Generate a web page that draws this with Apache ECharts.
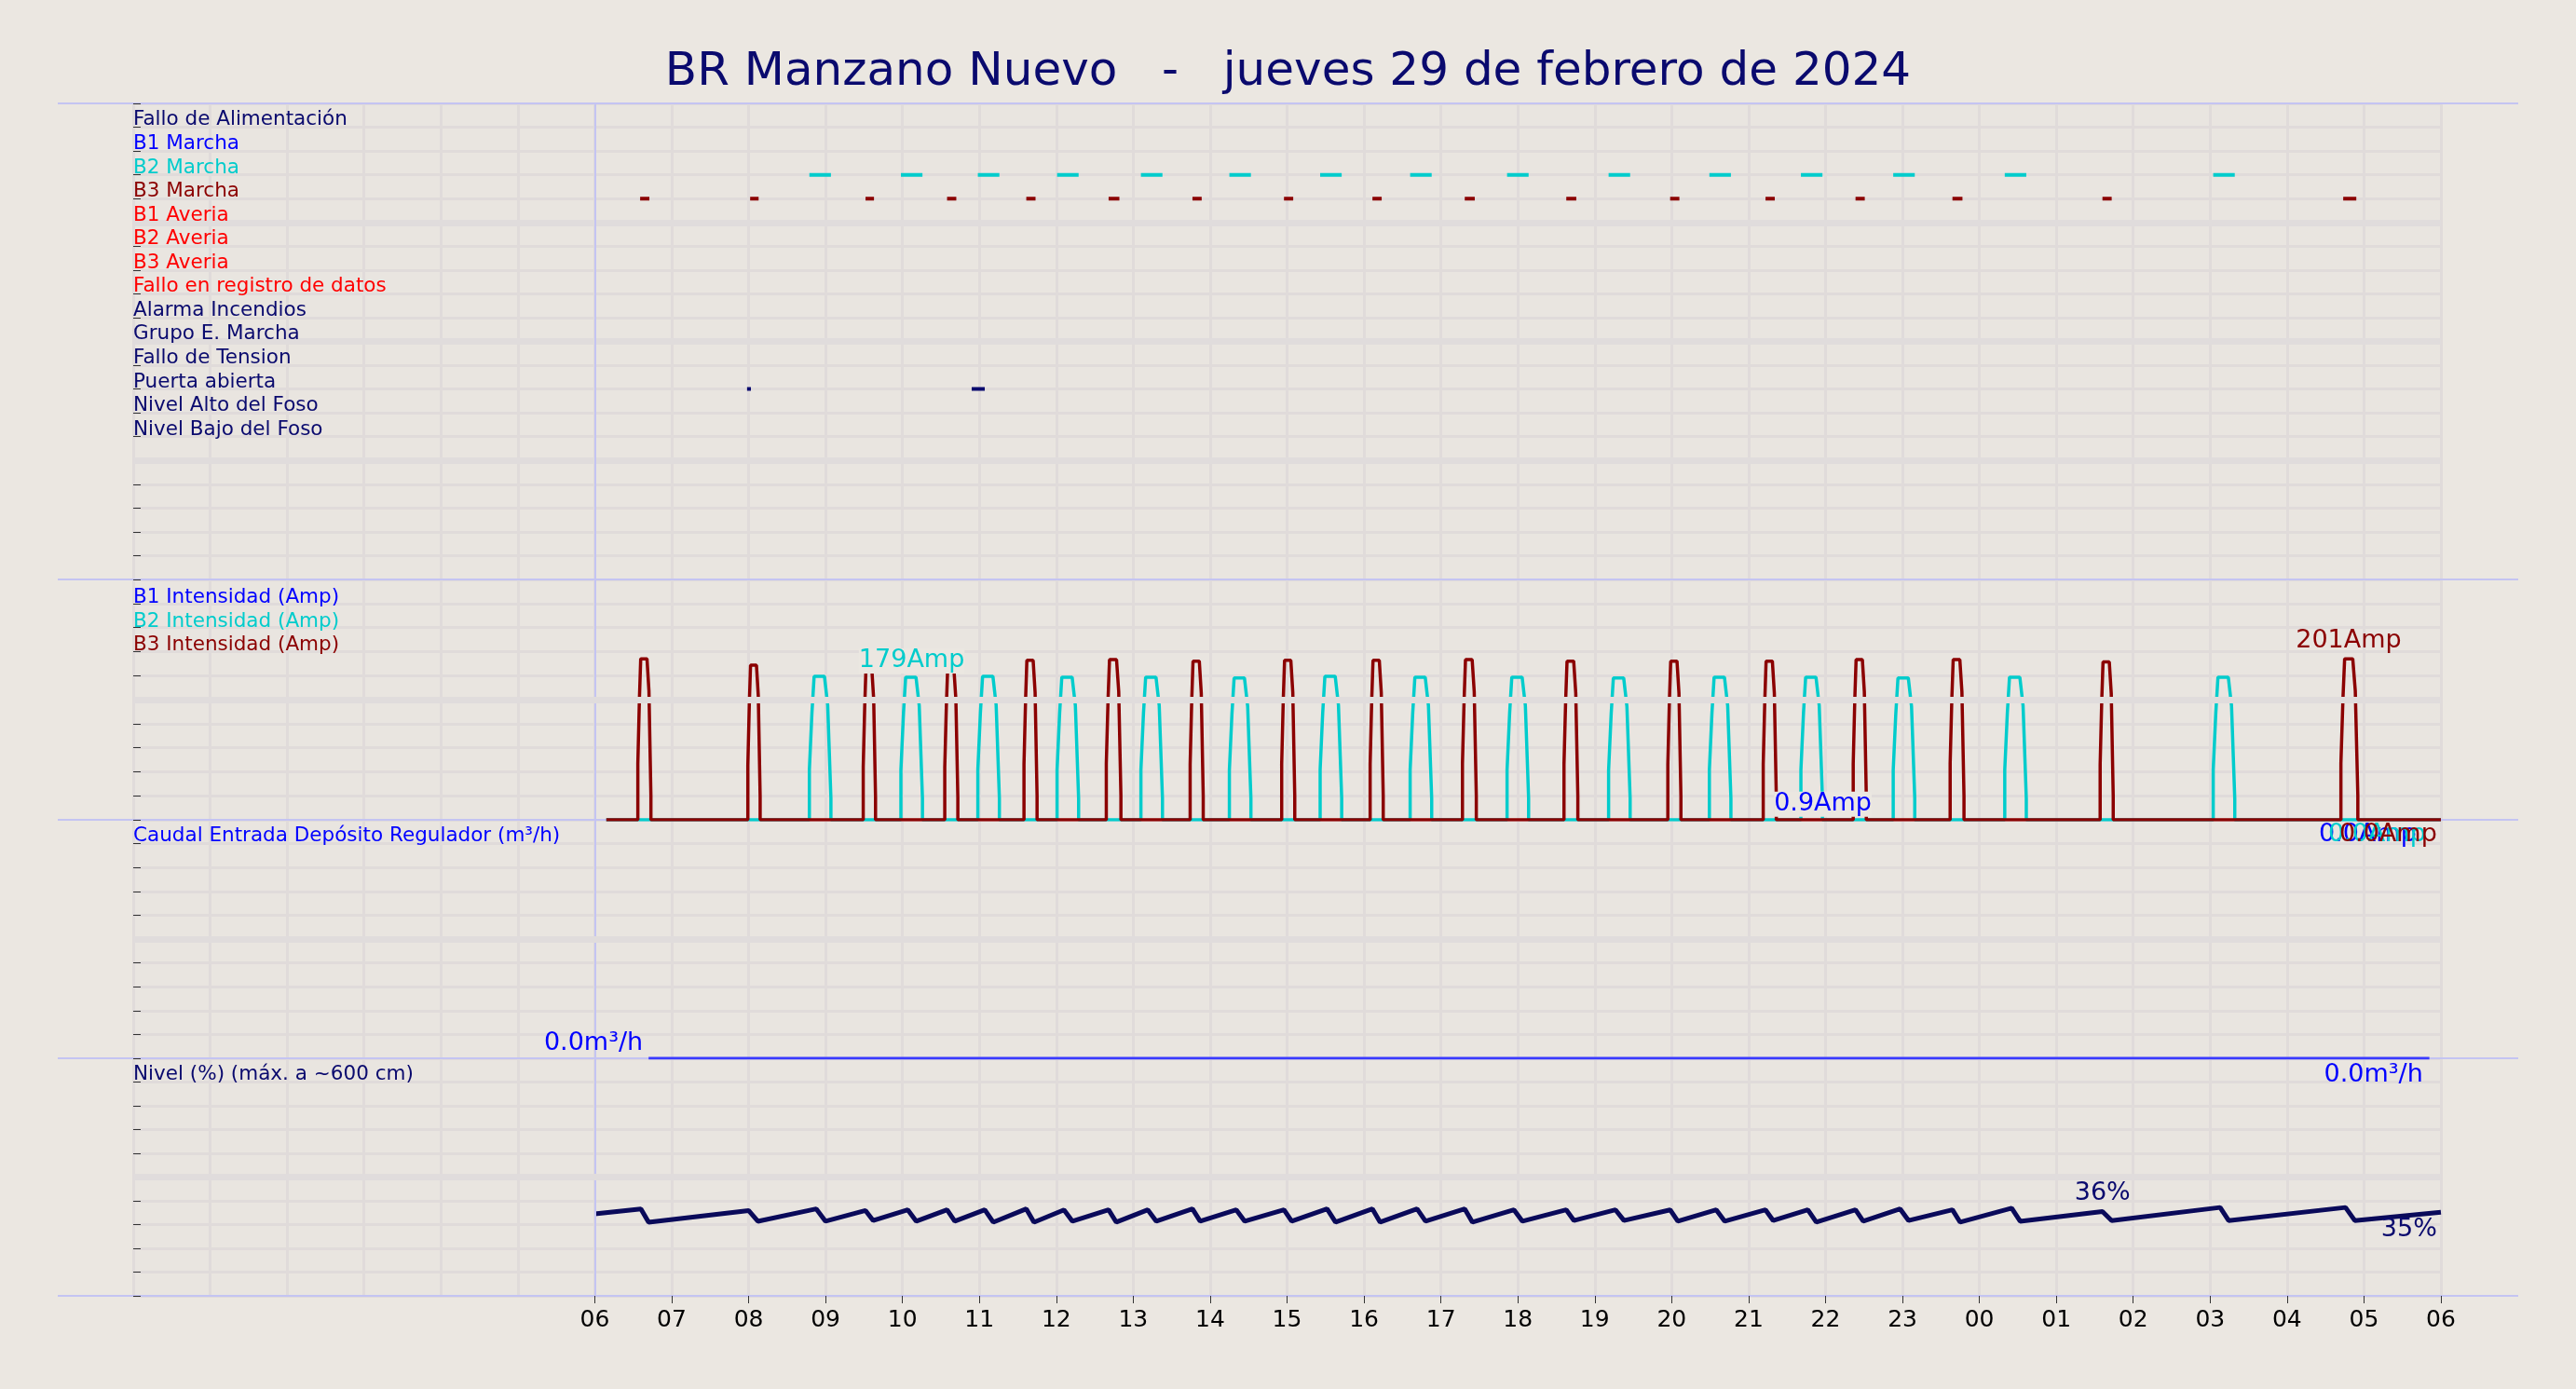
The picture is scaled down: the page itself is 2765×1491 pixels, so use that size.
<!DOCTYPE html>
<html><head><meta charset="utf-8">
<script src="https://cdn.jsdelivr.net/npm/echarts@6/dist/echarts.min.js"></script>
<style>html,body{margin:0;padding:0;background:#ebe7e1}#c{width:2765px;height:1491px}</style>
</head><body><div id="c"></div>
<script>
// ---- data ----
const rowLabels = ['Fallo de Alimentación','B1 Marcha','B2 Marcha','B3 Marcha','B1 Averia','B2 Averia','B3 Averia','Fallo en registro de datos','Alarma Incendios','Grupo E. Marcha','Fallo de Tension','Puerta abierta','Nivel Alto del Foso','Nivel Bajo del Foso'];
const rowColors = ['#0a0a6e','#0000ff','#00cccc','#8b0000','#ff0000','#ff0000','#ff0000','#ff0000','#0a0a6e','#0a0a6e','#0a0a6e','#0a0a6e','#0a0a6e','#0a0a6e'];
// pump runs (hours from 00:00 of 29 Feb)
const b3Start = [6.56,7.99,9.49,10.55,11.58,12.65,13.74,14.93,16.08,17.28,18.6,19.95,21.19,22.36,23.62,25.57,28.70];
const b3End   = [6.73,8.15,9.65,10.72,11.75,12.84,13.91,15.10,16.25,17.46,18.78,20.12,21.36,22.53,23.80,25.74,28.92];
const b3Peak  = [201,193,188,188,199,200,198,199,199,200,198,198,198,200,200,197,201];
const b2Start = [8.79,9.98,10.98,12.01,13.10,14.25,15.43,16.60,17.86,19.18,20.49,21.68,22.88,24.33,27.04];
const b2End   = [9.07,10.26,11.26,12.29,13.38,14.53,15.71,16.88,18.14,19.46,20.77,21.96,23.16,24.61,27.32];
const b2Peak  = [179,178,179,178,178,177,179,178,178,177,178,178,177,178,178];
const pulseShape = [0.35,0.75,1,1,0.8,0.15]; // fractions of peak read from the step profile
const puertaRuns = [[7.98,8.03],[10.9,11.07]];
const caudalX = [6.7, 29.85];
const caudalY = [0, 0];
const levelX = [6.0,6.6,6.7,8.0,8.12,8.88,9.0,9.52,9.62,10.07,10.18,10.58,10.68,11.07,11.18,11.61,11.71,12.1,12.21,12.68,12.78,13.19,13.3,13.77,13.87,14.34,14.45,14.96,15.06,15.52,15.63,16.11,16.21,16.69,16.8,17.31,17.41,17.95,18.06,18.63,18.73,19.27,19.38,19.98,20.08,20.58,20.69,21.22,21.32,21.77,21.88,22.39,22.49,22.97,23.08,23.65,23.75,24.42,24.53,25.6,25.72,27.13,27.24,28.76,28.88,30.0];
const levelY = [34.5,36.6,31.0,35.9,31.4,36.6,31.4,35.9,31.7,36.2,31.4,36.2,31.4,36.2,31.0,36.6,31.0,36.2,31.4,36.2,31.0,36.2,31.4,36.6,31.4,36.2,31.4,36.2,31.4,36.6,31.0,36.6,31.0,36.6,31.4,36.6,31.0,36.2,31.4,36.2,31.7,36.2,31.7,36.2,31.4,36.2,31.4,36.2,31.7,36.2,31.0,36.2,31.4,36.6,31.7,36.2,31.0,36.9,31.4,35.5,31.7,37.2,31.7,37.2,31.7,35.2];
const hourTicks = ['06','07','08','09','10','11','12','13','14','15','16','17','18','19','20','21','22','23','00','01','02','03','04','05','06'];

// ---- build ----
function pulses(st, en, pk, x0, x1){
  const d=[[x0,0]];
  for(let i=0;i<st.length;i++){
    const s=st[i], e=en[i], w=e-s, p=pk[i];
    d.push([s,0],[s,p*pulseShape[0]],[s+w*0.12,p*pulseShape[1]],[s+w*0.22,p*pulseShape[2]],
           [e-w*0.3,p*pulseShape[3]],[e-w*0.15,p*pulseShape[4]],[e,p*pulseShape[5]],[e,0]);
  }
  d.push([x1,0]); return d;
}
function dashes(st,en,row){const d=[];for(let i=0;i<st.length;i++){d.push([st[i],row],[en[i],row],[null,null]);}return d;}

const grids=[{top:111,h:511},{top:622,h:258},{top:880,h:256},{top:1136,h:255}];
const yMax=[20,300,10,100];
const F='DejaVu Sans';
const L=143, R=145, W=2765-L-R;
const option={
  backgroundColor:'#ebe7e1',
  animation:false,
  title:{text:'BR Manzano Nuevo   -   jueves 29 de febrero de 2024',left:'center',top:48,textStyle:{fontFamily:F,fontSize:50,fontWeight:'normal',color:'#0a0a6e'}},
  grid:grids.map(g=>({left:L,right:R,top:g.top,height:g.h,backgroundColor:'#e9e5e0',show:true,borderWidth:0}))
     .concat([{left:L+W*6/30,right:R,top:grids[3].top,height:grids[3].h,show:false}]),
  xAxis:grids.map((g,i)=>({gridIndex:i,type:'value',min:0,max:30,interval:1,
     axisLine:{show:false},axisTick:{show:false},axisLabel:{show:false},
     splitLine:{show:true,lineStyle:{color:'#e0dbda',width:3}}}))
     .concat([{gridIndex:4,type:'value',min:6,max:30,interval:1,axisLine:{show:false},
       axisTick:{show:true,length:8,lineStyle:{color:'#333'}},splitLine:{show:false},
       axisLabel:{show:true,fontFamily:F,fontSize:25,color:'#000',margin:14,formatter:v=>hourTicks[v-6]}}]),
  yAxis:grids.map((g,i)=>({gridIndex:i,type:'value',min:0,max:yMax[i],interval:yMax[i]/(i===0?20:10),inverse:i===0,position:'right',
     axisLine:{show:false},axisLabel:{show:false},
     axisTick:{show:true,length:8,lineStyle:{color:'#333'}},
     splitLine:{show:true,lineStyle:{color:'#e0dbda',width:3}}}))
     .concat([{gridIndex:4,type:'value',min:0,max:1,show:false}]),
  series:[]
};
const S=option.series;
const thick={silent:true,symbol:'none',label:{show:false},lineStyle:{color:'#e0dcdc',width:7,type:'solid'}};
const lab={type:'scatter',symbolSize:0,silent:true,z:10,itemStyle:{opacity:1}};
// panel 1
S.push(Object.assign({},lab,{xAxisIndex:0,yAxisIndex:0,
  data:rowLabels.map((t,k)=>({value:[0,k+0.7],label:{show:true,position:'right',distance:0,formatter:t,color:rowColors[k],fontFamily:F,fontSize:21.5}}))}));
S.push({type:'line',xAxisIndex:0,yAxisIndex:0,data:[],z:1,markLine:Object.assign({data:[{yAxis:5},{yAxis:10},{yAxis:15}]},thick)});
S.push({type:'line',xAxisIndex:0,yAxisIndex:0,symbol:'none',connectNulls:false,data:dashes(b2Start,b2End,3),lineStyle:{color:'#00cccc',width:4}});
S.push({type:'line',xAxisIndex:0,yAxisIndex:0,symbol:'none',connectNulls:false,data:dashes(b3Start.map((s,i)=>s+0.03),b3End.map(e=>e-0.02),4),lineStyle:{color:'#8b0000',width:4}});
S.push({type:'line',xAxisIndex:0,yAxisIndex:0,symbol:'none',connectNulls:false,data:dashes(puertaRuns.map(r=>r[0]),puertaRuns.map(r=>r[1]),12),lineStyle:{color:'#0a0a6e',width:4}});
[0,1,2,3].forEach(i=>S.push({type:'line',xAxisIndex:i,yAxisIndex:i,data:[],markLine:{silent:true,symbol:'none',label:{show:false},lineStyle:{color:'#c4c4f2',width:2,type:'solid'},data:[{xAxis:6}]}}));
// panel 2
const intLabels=[['B1 Intensidad (Amp)','#0000ff',277],['B2 Intensidad (Amp)','#00cccc',247],['B3 Intensidad (Amp)','#8b0000',218]];
S.push(Object.assign({},lab,{xAxisIndex:1,yAxisIndex:1,
  data:intLabels.map(r=>({value:[0,r[2]],label:{show:true,position:'right',distance:0,formatter:r[0],color:r[1],fontFamily:F,fontSize:21.5}}))}));
S.push({type:'line',xAxisIndex:1,yAxisIndex:1,data:[],z:1,markLine:Object.assign({data:[{yAxis:150}]},thick)});
S.push({type:'line',xAxisIndex:1,yAxisIndex:1,symbol:'none',data:pulses(b2Start,b2End,b2Peak,6.15,30),lineStyle:{color:'#00cccc',width:3.5}});
S.push({type:'line',xAxisIndex:1,yAxisIndex:1,symbol:'none',data:pulses(b3Start,b3End,b3Peak,6.15,30),lineStyle:{color:'#8b0000',width:3.5}});
S.push(Object.assign({},lab,{xAxisIndex:1,yAxisIndex:1,data:[
  {value:[b2Start[1]+0.14,b2Peak[1]],label:{show:true,position:'top',distance:4,formatter:'179Amp',color:'#00cccc',fontFamily:F,fontSize:27,backgroundColor:'#ebe7e1'}},
  {value:[b3Start[16]+0.1,b3Peak[16]],label:{show:true,position:'top',distance:6,formatter:'201Amp',color:'#8b0000',fontFamily:F,fontSize:27}},
  {value:[22.6,0.9],label:{show:true,position:'left',distance:0,offset:[0,-16],formatter:'0.9Amp',color:'#0000ff',fontFamily:F,fontSize:27,backgroundColor:'#ebe7e1'}},
  {value:[29.75,0],label:{show:true,position:'bottom',distance:2,offset:[-58,0],formatter:'0.0Amp',color:'#0000ff',fontFamily:F,fontSize:27}},
  {value:[29.75,0],label:{show:true,position:'bottom',distance:2,offset:[-48,0],formatter:'0.0Amp',color:'#00cccc',fontFamily:F,fontSize:27}},
  {value:[29.75,0],label:{show:true,position:'bottom',distance:2,offset:[-36,0],formatter:'0.0Amp',color:'#8b0000',fontFamily:F,fontSize:27}}]}));
// panel 3
S.push(Object.assign({},lab,{xAxisIndex:2,yAxisIndex:2,
  data:[{value:[0,9.3],label:{show:true,position:'right',distance:0,formatter:'Caudal Entrada Depósito Regulador (m³/h)',color:'#0000ff',fontFamily:F,fontSize:21.5}},
        {value:[caudalX[0],0],label:{show:true,position:'left',distance:6,offset:[0,-16],formatter:'0.0m³/h',color:'#0000ff',fontFamily:F,fontSize:27}}]}));
S.push({type:'line',xAxisIndex:2,yAxisIndex:2,data:[],z:1,markLine:Object.assign({data:[{yAxis:5}]},thick)});
S.push({type:'line',xAxisIndex:2,yAxisIndex:2,symbol:'none',data:caudalX.map((x,i)=>[x,caudalY[i]]),lineStyle:{color:'#3a3aff',width:3}});
// panel 4
S.push(Object.assign({},lab,{xAxisIndex:3,yAxisIndex:3,
  data:[{value:[0,93],label:{show:true,position:'right',distance:0,formatter:'Nivel (%) (máx. a ~600 cm)',color:'#0a0a6e',fontFamily:F,fontSize:21.5}},
        {value:[caudalX[1],100],label:{show:true,position:'bottom',distance:4,offset:[-60,0],formatter:'0.0m³/h',color:'#0000ff',fontFamily:F,fontSize:27}},
        {value:[25.6,37],label:{show:true,position:'top',distance:2,formatter:'36%',color:'#0a0a6e',fontFamily:F,fontSize:27}},
        {value:[29.95,33],label:{show:true,position:'bottom',distance:0,offset:[-30,0],formatter:'35%',color:'#0a0a6e',fontFamily:F,fontSize:27}}]}));
S.push({type:'line',xAxisIndex:3,yAxisIndex:3,data:[],z:1,markLine:Object.assign({data:[{yAxis:50}]},thick)});
S.push({type:'line',xAxisIndex:3,yAxisIndex:3,symbol:'none',data:levelX.map((x,i)=>[x,levelY[i]]),lineStyle:{color:'#0a0a5a',width:5}});
S.push({type:'line',xAxisIndex:4,yAxisIndex:4,data:[]});

const chart=echarts.init(document.getElementById('c'));
chart.setOption(option);
const ys=[0,1,2,3].map(i=>chart.convertToPixel({yAxisIndex:i},i===0?0:yMax[i]));
ys.push(chart.convertToPixel({yAxisIndex:3},0));
chart.setOption({graphic:ys.map(y=>({type:'line',silent:true,shape:{x1:62,y1:y,x2:2703,y2:y},style:{stroke:'#c4c4f2',lineWidth:2}}))});
</script></body></html>
